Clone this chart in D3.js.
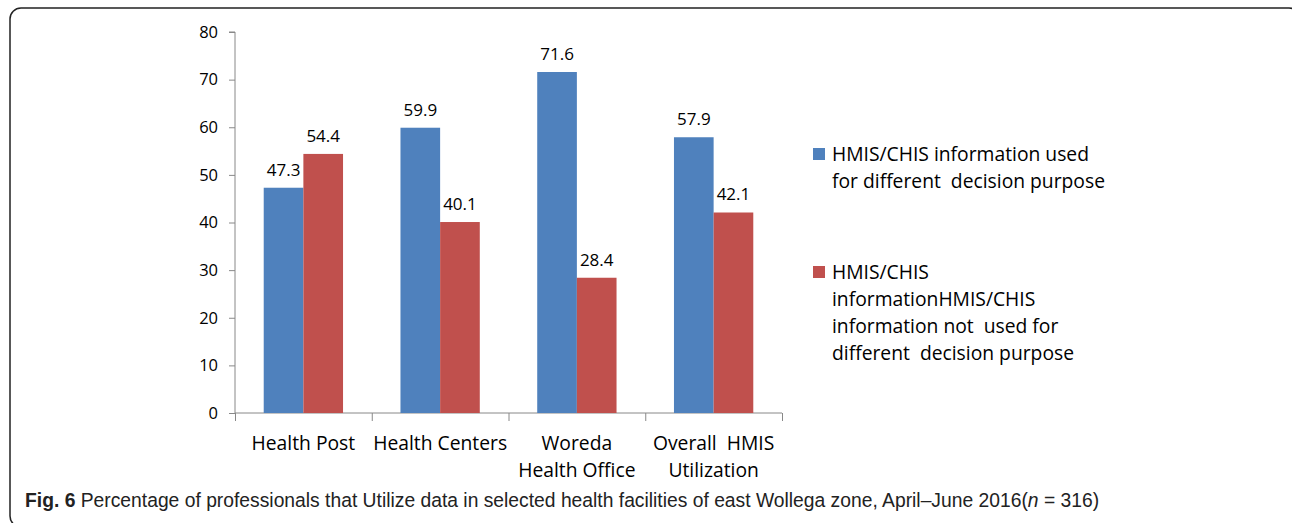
<!DOCTYPE html>
<html><head><meta charset="utf-8">
<script src="https://cdn.jsdelivr.net/npm/d3@7"></script>
<style>
body{margin:0;background:#fff;}
svg text{white-space:pre;}
</style></head>
<body><svg id="chart" width="1292" height="523"></svg>
<script>
const categories = [["Health Post"], ["Health Centers"], ["Woreda", "Health Office"], ["Overall  HMIS", "Utilization"]];
const usedValues = [47.3, 59.9, 71.6, 57.9];
const notUsedValues = [54.4, 40.1, 28.4, 42.1];
const seriesNames = [
  ["HMIS/CHIS information used", "for different  decision purpose"],
  ["HMIS/CHIS", "informationHMIS/CHIS", "information not  used for", "different  decision purpose"]
];
const yTicks = [0, 10, 20, 30, 40, 50, 60, 70, 80];
const colors = ["#4F81BD", "#C0504D"];
const captionBold = "Fig. 6";
const captionText = " Percentage of professionals that Utilize data in selected health facilities of east Wollega zone, April\u2013June 2016(";
const font = "'Open Sans', sans-serif";

const svg = d3.select("#chart");

// border
svg.append("rect").attr("x", 10).attr("y", 8).attr("width", 1290).attr("height", 519)
  .attr("rx", 11).attr("fill", "none").attr("stroke", "#222").attr("stroke-width", 1.5);

const x0 = 235, x1 = 782, yTop = 32, yBot = 413;
const x = d3.scaleBand().domain(d3.range(categories.length)).range([x0, x1]).paddingInner(0.42).paddingOuter(0.21);
const y = d3.scaleLinear().domain([0, 80]).range([yBot, yTop]);

// y axis
const yAxis = svg.append("g").attr("transform", `translate(${x0},0)`)
  .call(d3.axisLeft(y).tickValues(yTicks).tickSize(6).tickPadding(11).tickFormat(d3.format("d")));
yAxis.select(".domain").attr("stroke", "#888").attr("d", `M-6,${yTop}H0V${yBot}`);
yAxis.selectAll(".tick line").attr("stroke", "#888");
yAxis.selectAll("text").attr("font-family", font).attr("font-size", 16.5).attr("fill", "#000");

// x axis
const xb = d3.scaleLinear().domain([0, categories.length]).range([x0, x1]);
const xAxis = svg.append("g").attr("transform", `translate(0,${yBot})`)
  .call(d3.axisBottom(xb).tickValues(d3.range(categories.length + 1)).tickSize(8).tickFormat(""));
xAxis.select(".domain").attr("stroke", "#888").attr("d", `M${x0},0H${x1}`);
xAxis.selectAll(".tick line").attr("stroke", "#888");

// category labels
const catG = svg.append("g");
categories.forEach((lines, i) => {
  const cx = x(i) + x.bandwidth() / 2;
  lines.forEach((t, j) => {
    catG.append("text").attr("x", cx).attr("y", 450 + j * 27).attr("text-anchor", "middle")
      .attr("font-family", font).attr("font-size", 19.3).attr("fill", "#000").text(t);
  });
});

// bars
const sub = d3.scaleBand().domain([0, 1]).range([0, x.bandwidth()]);
const series = [usedValues, notUsedValues];
series.forEach((vals, s) => {
  const g = svg.append("g");
  g.selectAll("rect").data(vals).join("rect")
    .attr("x", (d, i) => x(i) + sub(s)).attr("width", sub.bandwidth())
    .attr("y", d => y(d)).attr("height", d => y(0) - y(d))
    .attr("fill", colors[s]);
  g.selectAll("text").data(vals).join("text")
    .attr("x", (d, i) => x(i) + sub(s) + sub.bandwidth() / 2)
    .attr("y", d => y(d) - 12).attr("text-anchor", "middle")
    .attr("font-family", font).attr("font-size", 17).attr("fill", "#000")
    .text(d => d3.format(".1f")(d));
});

// legend
const legY = [154, 272];
seriesNames.forEach((lines, s) => {
  svg.append("rect").attr("x", 813).attr("y", legY[s] - 6).attr("width", 12).attr("height", 12).attr("fill", colors[s]);
  lines.forEach((t, j) => {
    svg.append("text").attr("x", 832).attr("y", legY[s] + 7 + j * 27)
      .attr("font-family", font).attr("font-size", 19.3).attr("fill", "#000").text(t);
  });
});

// caption
const cap = svg.append("text").attr("x", 25).attr("y", 507)
  .attr("font-family", "'Liberation Sans', sans-serif").attr("font-size", 19.3).attr("fill", "#222");
cap.append("tspan").attr("font-weight", "bold").text(captionBold);
cap.append("tspan").text(captionText);
cap.append("tspan").attr("font-style", "italic").text("n");
cap.append("tspan").text(" = 316)");
</script></body></html>
